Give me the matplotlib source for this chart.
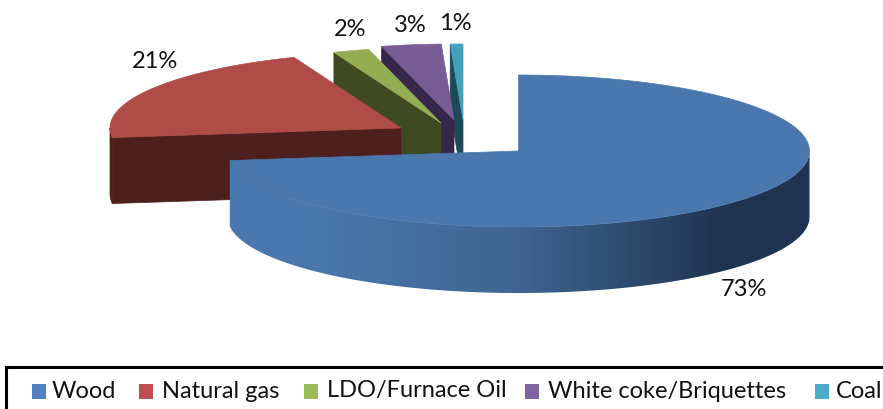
import numpy as np
import matplotlib
matplotlib.use('Agg')
import matplotlib.pyplot as plt
from matplotlib.patches import Polygon, Rectangle
from matplotlib.colors import LinearSegmentedColormap

categories = ['Wood', 'Natural gas', 'LDO/Furnace Oil', 'White coke/Briquettes', 'Coal']
values = [73, 21, 2.0, 3.3, 0.7]
labels = ['73%', '21%', '2%', '3%', '1%']

top_colors = ['#4a78ae', '#b04c48', '#93ad53', '#775c95', '#45a0bb']
side_colors = ['#1e3450', '#4d1f1d', '#404a22', '#35264a', '#1d4a58']
legend_colors = ['#4f81bd', '#c0504d', '#9bbb59', '#8064a2', '#4bacc6']

# apex of each slice after the explosion, in pixels
apex = [(518.5, 151), (401, 128), (441, 123), (454, 120), (463, 120)]
label_pos = [(744, 290), (155, 61), (350, 30), (410, 25), (455, 23)]
legend_square_x = [32, 139, 304, 525, 815]
legend_text_x = [52, 162, 327, 548, 836]

rx, ry = 291, 76
depth = 66

plt.rcParams['font.family'] = ['Lato', 'DejaVu Sans']

fig = plt.figure(figsize=(8.83, 4.09), dpi=100)
ax = fig.add_axes([0, 0, 1, 1])


def rim(center, a0, a1, n=200):
    # angles are clockwise from 12 o'clock, in degrees
    t = np.radians(np.linspace(a0, a1, n))
    return np.column_stack((center[0] + rx * np.sin(t), center[1] - ry * np.cos(t)))


def draw_slice(i, a0, a1):
    c = apex[i]
    edge = rim(c, a0, a0, 2)[0]
    # cut face along the starting radius
    if i > 0:
        face = [c, edge, edge + [0, depth], (c[0], c[1] + depth)]
        ax.add_patch(Polygon(face, closed=True, fc=side_colors[i], ec=side_colors[i], lw=0.5))
    # outer wall, front half only
    lo, hi = max(a0, 90), min(a1, 270)
    if lo < hi:
        p = rim(c, lo, hi)
        wall = np.vstack((p, p[::-1] + [0, depth]))
        if i == 0:
            # wood wall fades from the top colour to dark between x=305 and x=725
            cmap = LinearSegmentedColormap.from_list('wall', [top_colors[0], '#3f6592', side_colors[0]])
            xs = np.arange(200, 830)
            grad = np.clip((xs - 305) / (725 - 305), 0, 1)[None, :]
            clip = Polygon(wall, closed=True, transform=ax.transData)
            im = ax.imshow(grad, extent=(200, 830, 320, 120), cmap=cmap, aspect='auto', zorder=1)
            im.set_clip_path(clip)
        else:
            ax.add_patch(Polygon(wall, closed=True, fc=side_colors[i], ec=side_colors[i], lw=0.5))
    # top surface
    top = np.vstack(([c], rim(c, a0, a1)))
    ax.add_patch(Polygon(top, closed=True, fc=top_colors[i], ec=top_colors[i], lw=0.5))


ends = np.cumsum(values) / sum(values) * 360
starts = np.concatenate(([0], ends[:-1]))
for i in [4, 3, 2, 1, 0]:
    draw_slice(i, starts[i], ends[i])

ax.set_xlim(0, 883)
ax.set_ylim(409, 0)
ax.axis('off')

for lab, pos in zip(labels, label_pos):
    ax.text(pos[0], pos[1], lab, fontsize=17, color='#111111', ha='center', va='center')

# legend box, runs off the bottom and right of the picture
ax.plot([5.5, 5.5, 883], [409, 367, 367], color='black', lw=2.2, solid_joinstyle='miter')
for i, name in enumerate(categories):
    ax.add_patch(Rectangle((legend_square_x[i], 384), 14, 15, fc=legend_colors[i], ec='none'))
    ax.text(legend_text_x[i], 391, name, fontsize=17, color='#111111', ha='left', va='center')

fig.savefig('out.png', dpi=100)
